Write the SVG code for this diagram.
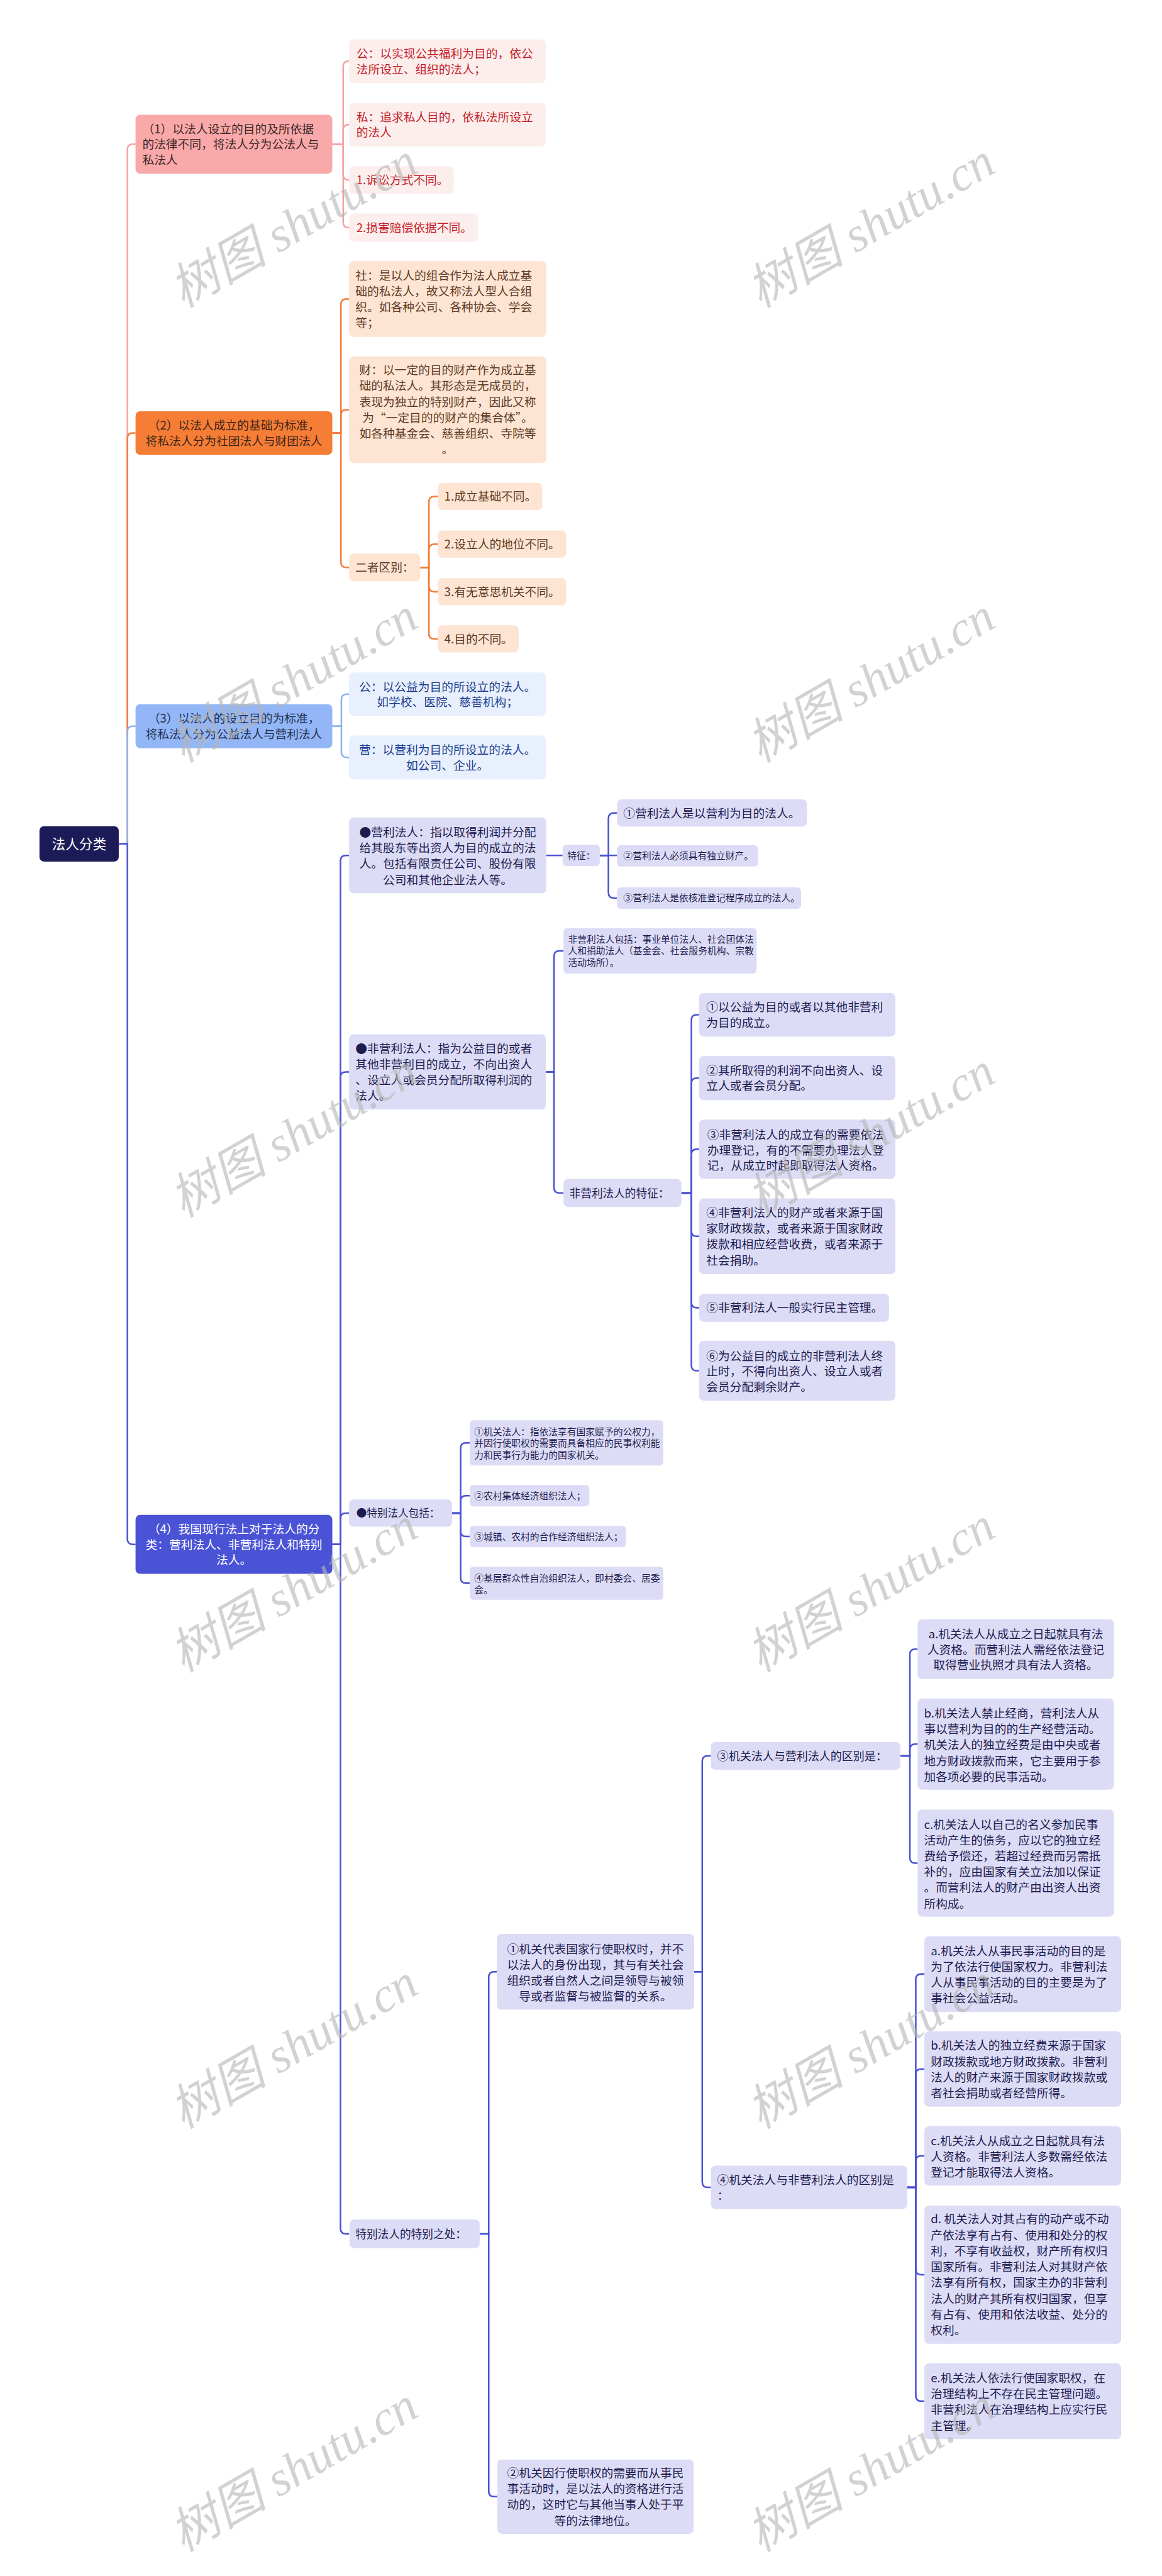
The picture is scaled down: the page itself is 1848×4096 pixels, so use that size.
<svg xmlns="http://www.w3.org/2000/svg" width="1848" height="4096" viewBox="0 0 1848 4096">
<style>
.t{font-family:"Noto Sans CJK SC","Noto Sans CJK JP",sans-serif;}
.s26{font-size:26px}.s20{font-size:20.5px}.s24{font-size:24.5px}.s23{font-size:23px}.s25{font-size:25px}.s30{font-size:30px}
.mid{text-anchor:middle}
.root{fill:#1d1b57}.n1{fill:#f9a9a9}.c1{fill:#fdeeee}.n2{fill:#f57d36}.c2{fill:#fde4d3}.n3{fill:#93b6f6}.c3{fill:#e8f0fd}.n4{fill:#4a52d6}.c4{fill:#dddcf6}
.tr{fill:#ffffff}.t1{fill:#3b2727}.tc1{fill:#c21f28}.t2{fill:#3d2517}.tc2{fill:#5e3b25}.t3{fill:#22304e}.tc3{fill:#1a3c8f}.t4{fill:#ffffff}.tc4{fill:#1d1c4f}
.ln{fill:none;stroke-width:3.5}
.lp{stroke:#f5a3a3}.lo{stroke:#f27c3a}.lb{stroke:#8eb2f2}.lv{stroke:#4a52d2}
.wm{font-family:"Liberation Serif","Noto Sans CJK SC",serif;font-style:italic;font-size:108px;fill:#b4b4b4;fill-opacity:0.6;text-anchor:middle}
</style>
<rect x="0" y="0" width="1848" height="4096" fill="#ffffff"/>
<g transform="scale(0.721)">
<g id="connectors">
<path class="ln lp" d="M262 1861 H281 V330 Q281 318 293 318 H299"/>
<path class="ln lo" d="M262 1861 H281 V967 Q281 955 293 955 H299"/>
<path class="ln lb" d="M262 1861 H281 V1613.5 Q281 1601.5 293 1601.5 H299"/>
<path class="ln lv" d="M262 1861 H281 V3394 Q281 3406 293 3406 H299"/>
<path class="ln lp" d="M733 318 H757 V147 Q757 135 769 135 H770"/>
<path class="ln lp" d="M733 318 H757 V287 Q757 275 769 275 H770"/>
<path class="ln lp" d="M733 318 H757 V385 Q757 397 769 397 H770"/>
<path class="ln lp" d="M733 318 H757 V490 Q757 502 769 502 H770"/>
<path class="ln lo" d="M733 955 H752 V671.5 Q752 659.5 764 659.5 H770"/>
<path class="ln lo" d="M733 955 H752 V915.5 Q752 903.5 764 903.5 H770"/>
<path class="ln lo" d="M733 955 H752 V1239.5 Q752 1251.5 764 1251.5 H770"/>
<path class="ln lo" d="M927 1251.5 H946 V1107 Q946 1095 958 1095 H966"/>
<path class="ln lo" d="M927 1251.5 H946 V1212 Q946 1200 958 1200 H966"/>
<path class="ln lo" d="M927 1251.5 H946 V1293 Q946 1305 958 1305 H966"/>
<path class="ln lo" d="M927 1251.5 H946 V1397 Q946 1409 958 1409 H966"/>
<path class="ln lb" d="M733 1601.5 H753 V1543 Q753 1531 765 1531 H770"/>
<path class="ln lb" d="M733 1601.5 H753 V1658.5 Q753 1670.5 765 1670.5 H770"/>
<path class="ln lv" d="M733 3406 H751 V1898.5 Q751 1886.5 763 1886.5 H770"/>
<path class="ln lv" d="M733 3406 H751 V2376 Q751 2364 763 2364 H770"/>
<path class="ln lv" d="M733 3406 H751 V3349 Q751 3337 763 3337 H770"/>
<path class="ln lv" d="M733 3406 H751 V4914.5 Q751 4926.5 763 4926.5 H770"/>
<path class="ln lv" d="M1205 1886.5 H1241"/>
<path class="ln lv" d="M1323 1886.5 H1342 V1805 Q1342 1793 1354 1793 H1361"/>
<path class="ln lv" d="M1323 1886.5 H1361"/>
<path class="ln lv" d="M1323 1886.5 H1342 V1968.5 Q1342 1980.5 1354 1980.5 H1361"/>
<path class="ln lv" d="M1204 2364 H1222 V2109 Q1222 2097 1234 2097 H1243"/>
<path class="ln lv" d="M1204 2364 H1222 V2619 Q1222 2631 1234 2631 H1243"/>
<path class="ln lv" d="M1503 2631 H1525 V2250 Q1525 2238 1537 2238 H1542"/>
<path class="ln lv" d="M1503 2631 H1525 V2389.5 Q1525 2377.5 1537 2377.5 H1542"/>
<path class="ln lv" d="M1503 2631 H1525 V2546.5 Q1525 2534.5 1537 2534.5 H1542"/>
<path class="ln lv" d="M1503 2631 H1525 V2714.5 Q1525 2726.5 1537 2726.5 H1542"/>
<path class="ln lv" d="M1503 2631 H1525 V2872 Q1525 2884 1537 2884 H1542"/>
<path class="ln lv" d="M1503 2631 H1525 V3011 Q1525 3023 1537 3023 H1542"/>
<path class="ln lv" d="M997 3337 H1016 V3194 Q1016 3182 1028 3182 H1036"/>
<path class="ln lv" d="M997 3337 H1016 V3310.5 Q1016 3298.5 1028 3298.5 H1036"/>
<path class="ln lv" d="M997 3337 H1016 V3376.5 Q1016 3388.5 1028 3388.5 H1036"/>
<path class="ln lv" d="M997 3337 H1016 V3479.5 Q1016 3491.5 1028 3491.5 H1036"/>
<path class="ln lv" d="M1058 4926.5 H1078 V4360.5 Q1078 4348.5 1090 4348.5 H1096"/>
<path class="ln lv" d="M1058 4926.5 H1078 V5494 Q1078 5506 1090 5506 H1097"/>
<path class="ln lv" d="M1531 4348.5 H1549 V3884.5 Q1549 3872.5 1561 3872.5 H1568"/>
<path class="ln lv" d="M1531 4348.5 H1549 V4812 Q1549 4824 1561 4824 H1568"/>
<path class="ln lv" d="M1986 3872.5 H2007 V3649 Q2007 3637 2019 3637 H2024"/>
<path class="ln lv" d="M1986 3872.5 H2007 V3858.5 Q2007 3846.5 2019 3846.5 H2024"/>
<path class="ln lv" d="M1986 3872.5 H2007 V4097 Q2007 4109 2019 4109 H2024"/>
<path class="ln lv" d="M2001 4824 H2020 V4365.5 Q2020 4353.5 2032 4353.5 H2039"/>
<path class="ln lv" d="M2001 4824 H2020 V4575 Q2020 4563 2032 4563 H2039"/>
<path class="ln lv" d="M2001 4824 H2020 V4766.5 Q2020 4754.5 2032 4754.5 H2039"/>
<path class="ln lv" d="M2001 4824 H2020 V5004.5 Q2020 5016.5 2032 5016.5 H2039"/>
<path class="ln lv" d="M2001 4824 H2020 V5283.5 Q2020 5295.5 2032 5295.5 H2039"/>
</g>

<g id="root"><rect class="root" x="87" y="1822" width="175" height="78" rx="10"/><text class="t s30 mid tr" x="174.5" y="1872">法人分类</text></g>

<g id="n1"><rect class="n1" x="299" y="253" width="434" height="130" rx="10"/><text class="t s26 t1"><tspan x="314" y="293.6">（1）以法人设立的目的及所依据</tspan><tspan x="314" y="327.6">的法律不同，将法人分为公法人与</tspan><tspan x="314" y="361.6">私法人</tspan></text></g>
<g id="n1a"><rect class="c1" x="770" y="87" width="434" height="96" rx="10"/><text class="t s26 tc1"><tspan x="786" y="127.6">公：以实现公共福利为目的，依公</tspan><tspan x="786" y="161.6">法所设立、组织的法人；</tspan></text></g>
<g id="n1b"><rect class="c1" x="770" y="227" width="434" height="96" rx="10"/><text class="t s26 tc1"><tspan x="786" y="267.6">私：追求私人目的，依私法所设立</tspan><tspan x="786" y="301.6">的法人</tspan></text></g>
<g id="n1c"><rect class="c1" x="770" y="366" width="231" height="62" rx="10"/><text class="t s26 tc1" x="786" y="406.6">1.诉讼方式不同。</text></g>
<g id="n1d"><rect class="c1" x="770" y="471" width="285" height="62" rx="10"/><text class="t s26 tc1" x="786" y="511.6">2.损害赔偿依据不同。</text></g>

<g id="n2"><rect class="n2" x="299" y="907" width="434" height="96" rx="10"/><text class="t s26 mid t2"><tspan x="516" y="947.6">（2）以法人成立的基础为标准，</tspan><tspan x="516" y="981.6">将私法人分为社团法人与财团法人</tspan></text></g>
<g id="n2a"><rect class="c2" x="770" y="576" width="435" height="167" rx="10"/><text class="t s26 tc2"><tspan x="784" y="616.6">社：是以人的组合作为法人成立基</tspan><tspan x="784" y="651.6">础的私法人，故又称法人型人合组</tspan><tspan x="784" y="686.6">织。如各种公司、各种协会、学会</tspan><tspan x="784" y="721.6">等；</tspan></text></g>
<g id="n2b"><rect class="c2" x="770" y="786" width="435" height="235" rx="10"/><text class="t s26 mid tc2"><tspan x="987.5" y="825.6">财：以一定的目的财产作为成立基</tspan><tspan x="987.5" y="860.6">础的私法人。其形态是无成员的，</tspan><tspan x="987.5" y="895.6">表现为独立的特别财产，因此又称</tspan><tspan x="987.5" y="930.6">为“一定目的的财产的集合体”。</tspan><tspan x="987.5" y="965.6">如各种基金会、慈善组织、寺院等</tspan><tspan x="987.5" y="1000.6">。</tspan></text></g>
<g id="n2c"><rect class="c2" x="770" y="1221" width="157" height="61" rx="10"/><text class="t s26 mid tc2" x="848.5" y="1261.1">二者区别：</text></g>
<g id="n2c1"><rect class="c2" x="966" y="1065" width="230" height="60" rx="10"/><text class="t s26 tc2" x="980" y="1104.6">1.成立基础不同。</text></g>
<g id="n2c2"><rect class="c2" x="966" y="1170" width="283" height="60" rx="10"/><text class="t s26 tc2" x="980" y="1209.6">2.设立人的地位不同。</text></g>
<g id="n2c3"><rect class="c2" x="966" y="1275" width="283" height="60" rx="10"/><text class="t s26 tc2" x="980" y="1314.6">3.有无意思机关不同。</text></g>
<g id="n2c4"><rect class="c2" x="966" y="1379" width="178" height="60" rx="10"/><text class="t s26 tc2" x="980" y="1418.6">4.目的不同。</text></g>

<g id="n3"><rect class="n3" x="299" y="1553" width="434" height="97" rx="10"/><text class="t s26 mid t3"><tspan x="516" y="1594.1">（3）以法人的设立目的为标准，</tspan><tspan x="516" y="1628.1">将私法人分为公益法人与营利法人</tspan></text></g>
<g id="n3a"><rect class="c3" x="770" y="1483" width="434" height="96" rx="10"/><text class="t s26 mid tc3"><tspan x="987" y="1523.6">公：以公益为目的所设立的法人。</tspan><tspan x="987" y="1557.6">如学校、医院、慈善机构；</tspan></text></g>
<g id="n3b"><rect class="c3" x="770" y="1622" width="434" height="97" rx="10"/><text class="t s26 mid tc3"><tspan x="987" y="1663.1">营：以营利为目的所设立的法人。</tspan><tspan x="987" y="1697.1">如公司、企业。</tspan></text></g>

<g id="n4"><rect class="n4" x="299" y="3341" width="434" height="130" rx="10"/><text class="t s26 mid t4"><tspan x="516" y="3381.6">（4）我国现行法上对于法人的分</tspan><tspan x="516" y="3415.6">类：营利法人、非营利法人和特别</tspan><tspan x="516" y="3449.6">法人。</tspan></text></g>

<g id="p1"><rect class="c4" x="770" y="1803" width="435" height="167" rx="10"/><text class="t s26 mid tc4"><tspan x="987.5" y="1844.6">●营利法人：指以取得利润并分配</tspan><tspan x="987.5" y="1879.6">给其股东等出资人为目的成立的法</tspan><tspan x="987.5" y="1914.6">人。包括有限责任公司、股份有限</tspan><tspan x="987.5" y="1949.6">公司和其他企业法人等。</tspan></text></g>
<g id="p1f"><rect class="c4" x="1241" y="1863" width="82" height="47" rx="8"/><text class="t s20 mid tc4" x="1282" y="1894.6">特征：</text></g>
<g id="p1f1"><rect class="c4" x="1361" y="1763" width="419" height="60" rx="10"/><text class="t s26 tc4" x="1375" y="1802.6">①营利法人是以营利为目的法人。</text></g>
<g id="p1f2"><rect class="c4" x="1361" y="1864" width="311" height="47" rx="8"/><text class="t s20 tc4" x="1375" y="1895.1">②营利法人必须具有独立财产。</text></g>
<g id="p1f3"><rect class="c4" x="1361" y="1957" width="406" height="47" rx="8"/><text class="t s20 tc4" x="1375" y="1988.1">③营利法人是依核准登记程序成立的法人。</text></g>

<g id="p2"><rect class="c4" x="770" y="2281" width="434" height="166" rx="10"/><text class="t s26 tc4"><tspan x="784" y="2321.1">●非营利法人：指为公益目的或者</tspan><tspan x="784" y="2356.1">其他非营利目的成立，不向出资人</tspan><tspan x="784" y="2391.1">、设立人或会员分配所取得利润的</tspan><tspan x="784" y="2426.1">法人。</tspan></text></g>
<g id="p2a"><rect class="c4" x="1243" y="2047" width="426" height="100" rx="8"/><text class="t s20 tc4"><tspan x="1253" y="2078.6">非营利法人包括：事业单位法人、社会团体法</tspan><tspan x="1253" y="2104.6">人和捐助法人（基金会、社会服务机构、宗教</tspan><tspan x="1253" y="2130.6">活动场所）。</tspan></text></g>
<g id="p2b"><rect class="c4" x="1243" y="2600" width="260" height="62" rx="10"/><text class="t s24 tc4" x="1256" y="2640.1">非营利法人的特征：</text></g>
<g id="p2b1"><rect class="c4" x="1542" y="2190" width="433" height="96" rx="10"/><text class="t s26 tc4"><tspan x="1558" y="2230.6">①以公益为目的或者以其他非营利</tspan><tspan x="1558" y="2264.6">为目的成立。</tspan></text></g>
<g id="p2b2"><rect class="c4" x="1542" y="2329" width="433" height="97" rx="10"/><text class="t s26 tc4"><tspan x="1558" y="2370.1">②其所取得的利润不向出资人、设</tspan><tspan x="1558" y="2404.1">立人或者会员分配。</tspan></text></g>
<g id="p2b3"><rect class="c4" x="1542" y="2469" width="433" height="131" rx="10"/><text class="t s26 tc4"><tspan x="1560" y="2512">③非营利法人的成立有的需要依法</tspan><tspan x="1560" y="2546">办理登记，有的不需要办理法人登</tspan><tspan x="1560" y="2580">记，从成立时起即取得法人资格。</tspan></text></g>
<g id="p2b4"><rect class="c4" x="1542" y="2643" width="433" height="167" rx="10"/><text class="t s26 tc4"><tspan x="1558" y="2683.6">④非营利法人的财产或者来源于国</tspan><tspan x="1558" y="2718.6">家财政拨款，或者来源于国家财政</tspan><tspan x="1558" y="2753.6">拨款和相应经营收费，或者来源于</tspan><tspan x="1558" y="2788.6">社会捐助。</tspan></text></g>
<g id="p2b5"><rect class="c4" x="1542" y="2853" width="419" height="62" rx="10"/><text class="t s26 tc4" x="1558" y="2893.6">⑤非营利法人一般实行民主管理。</text></g>
<g id="p2b6"><rect class="c4" x="1542" y="2957" width="433" height="132" rx="10"/><text class="t s26 tc4"><tspan x="1558" y="2999.6">⑥为公益目的成立的非营利法人终</tspan><tspan x="1558" y="3033.6">止时，不得向出资人、设立人或者</tspan><tspan x="1558" y="3067.6">会员分配剩余财产。</tspan></text></g>

<g id="p3"><rect class="c4" x="770" y="3307" width="227" height="60" rx="10"/><text class="t s23 tc4" x="786" y="3345.5">●特别法人包括：</text></g>
<g id="p3a"><rect class="c4" x="1036" y="3132" width="427" height="100" rx="8"/><text class="t s20 tc4"><tspan x="1046" y="3164.6">①机关法人：指依法享有国家赋予的公权力，</tspan><tspan x="1046" y="3190.6">并因行使职权的需要而具备相应的民事权利能</tspan><tspan x="1046" y="3216.6">力和民事行为能力的国家机关。</tspan></text></g>
<g id="p3b"><rect class="c4" x="1036" y="3275" width="264" height="47" rx="8"/><text class="t s20 tc4" x="1046" y="3306.1">②农村集体经济组织法人；</text></g>
<g id="p3c"><rect class="c4" x="1036" y="3365" width="345" height="47" rx="8"/><text class="t s20 tc4" x="1046" y="3396.1">③城镇、农村的合作经济组织法人；</text></g>
<g id="p3d"><rect class="c4" x="1036" y="3455" width="427" height="73" rx="8"/><text class="t s20 tc4"><tspan x="1046" y="3487.6">④基层群众性自治组织法人，即村委会、居委</tspan><tspan x="1046" y="3513.6">会。</tspan></text></g>

<g id="p4"><rect class="c4" x="771" y="4895" width="287" height="63" rx="10"/><text class="t s24 tc4" x="784" y="4935.6">特别法人的特别之处：</text></g>
<g id="p4a"><rect class="c4" x="1096" y="4265" width="435" height="167" rx="10"/><text class="t s26 mid tc4"><tspan x="1313.5" y="4307.6">①机关代表国家行使职权时，并不</tspan><tspan x="1313.5" y="4342.6">以法人的身份出现，其与有关社会</tspan><tspan x="1313.5" y="4377.6">组织或者自然人之间是领导与被领</tspan><tspan x="1313.5" y="4412.6">导或者监督与被监督的关系。</tspan></text></g>
<g id="p4b"><rect class="c4" x="1097" y="5424" width="433" height="164" rx="10"/><text class="t s26 mid tc4"><tspan x="1313.5" y="5463.1">②机关因行使职权的需要而从事民</tspan><tspan x="1313.5" y="5498.1">事活动时，是以法人的资格进行活</tspan><tspan x="1313.5" y="5533.1">动的，这时它与其他当事人处于平</tspan><tspan x="1313.5" y="5568.1">等的法律地位。</tspan></text></g>
<g id="p4c"><rect class="c4" x="1568" y="3842" width="418" height="61" rx="10"/><text class="t s25 tc4" x="1582" y="3881.8">③机关法人与营利法人的区别是：</text></g>
<g id="p4d"><rect class="c4" x="1568" y="4776" width="433" height="96" rx="10"/><text class="t s26 tc4"><tspan x="1582" y="4817.6">④机关法人与非营利法人的区别是</tspan><tspan x="1582" y="4851.6">：</tspan></text></g>
<g id="p4c1"><rect class="c4" x="2024" y="3571" width="433" height="132" rx="10"/><text class="t s26 mid tc4"><tspan x="2240.5" y="3613.6">a.机关法人从成立之日起就具有法</tspan><tspan x="2240.5" y="3647.6">人资格。而营利法人需经依法登记</tspan><tspan x="2240.5" y="3681.6">取得营业执照才具有法人资格。</tspan></text></g>
<g id="p4c2"><rect class="c4" x="2024" y="3746" width="433" height="201" rx="10"/><text class="t s26 tc4"><tspan x="2038" y="3787.6">b.机关法人禁止经商，营利法人从</tspan><tspan x="2038" y="3822.6">事以营利为目的的生产经营活动。</tspan><tspan x="2038" y="3857.6">机关法人的独立经费是由中央或者</tspan><tspan x="2038" y="3892.6">地方财政拨款而来，它主要用于参</tspan><tspan x="2038" y="3927.6">加各项必要的民事活动。</tspan></text></g>
<g id="p4c3"><rect class="c4" x="2024" y="3991" width="433" height="236" rx="10"/><text class="t s26 tc4"><tspan x="2038" y="4032.6">c.机关法人以自己的名义参加民事</tspan><tspan x="2038" y="4067.6">活动产生的债务，应以它的独立经</tspan><tspan x="2038" y="4102.6">费给予偿还，若超过经费而另需抵</tspan><tspan x="2038" y="4137.6">补的，应由国家有关立法加以保证</tspan><tspan x="2038" y="4172.6">。而营利法人的财产由出资人出资</tspan><tspan x="2038" y="4207.6">所构成。</tspan></text></g>
<g id="p4d1"><rect class="c4" x="2039" y="4270" width="434" height="167" rx="10"/><text class="t s26 tc4"><tspan x="2053" y="4311.6">a.机关法人从事民事活动的目的是</tspan><tspan x="2053" y="4346.6">为了依法行使国家权力。非营利法</tspan><tspan x="2053" y="4381.6">人从事民事活动的目的主要是为了</tspan><tspan x="2053" y="4416.6">事社会公益活动。</tspan></text></g>
<g id="p4d2"><rect class="c4" x="2039" y="4480" width="434" height="166" rx="10"/><text class="t s26 tc4"><tspan x="2053" y="4520.6">b.机关法人的独立经费来源于国家</tspan><tspan x="2053" y="4555.6">财政拨款或地方财政拨款。非营利</tspan><tspan x="2053" y="4590.6">法人的财产来源于国家财政拨款或</tspan><tspan x="2053" y="4625.6">者社会捐助或者经营所得。</tspan></text></g>
<g id="p4d3"><rect class="c4" x="2039" y="4689" width="434" height="131" rx="10"/><text class="t s26 tc4"><tspan x="2053" y="4730.6">c.机关法人从成立之日起就具有法</tspan><tspan x="2053" y="4765.6">人资格。非营利法人多数需经依法</tspan><tspan x="2053" y="4800.6">登记才能取得法人资格。</tspan></text></g>
<g id="p4d4"><rect class="c4" x="2039" y="4864" width="434" height="305" rx="10"/><text class="t s26 tc4"><tspan x="2053" y="4903.6">d. 机关法人对其占有的动产或不动</tspan><tspan x="2053" y="4938.6">产依法享有占有、使用和处分的权</tspan><tspan x="2053" y="4973.6">利，不享有收益权，财产所有权归</tspan><tspan x="2053" y="5008.6">国家所有。非营利法人对其财产依</tspan><tspan x="2053" y="5043.6">法享有所有权，国家主办的非营利</tspan><tspan x="2053" y="5078.6">法人的财产其所有权归国家，但享</tspan><tspan x="2053" y="5113.6">有占有、使用和依法收益、处分的</tspan><tspan x="2053" y="5148.6">权利。</tspan></text></g>
<g id="p4d5"><rect class="c4" x="2039" y="5212" width="434" height="167" rx="10"/><text class="t s26 tc4"><tspan x="2053" y="5253.6">e.机关法人依法行使国家职权，在</tspan><tspan x="2053" y="5288.6">治理结构上不存在民主管理问题。</tspan><tspan x="2053" y="5323.6">非营利法人在治理结构上应实行民</tspan><tspan x="2053" y="5358.6">主管理。</tspan></text></g>

<g id="watermark">
<text class="wm" x="647" y="534" transform="rotate(-30 647 496)">树图 shutu.cn</text>
<text class="wm" x="1920" y="534" transform="rotate(-30 1920 496)">树图 shutu.cn</text>
<text class="wm" x="647" y="1537" transform="rotate(-30 647 1499)">树图 shutu.cn</text>
<text class="wm" x="1920" y="1537" transform="rotate(-30 1920 1499)">树图 shutu.cn</text>
<text class="wm" x="647" y="2540" transform="rotate(-30 647 2502)">树图 shutu.cn</text>
<text class="wm" x="1920" y="2540" transform="rotate(-30 1920 2502)">树图 shutu.cn</text>
<text class="wm" x="647" y="3543" transform="rotate(-30 647 3505)">树图 shutu.cn</text>
<text class="wm" x="1920" y="3543" transform="rotate(-30 1920 3505)">树图 shutu.cn</text>
<text class="wm" x="647" y="4550" transform="rotate(-30 647 4512)">树图 shutu.cn</text>
<text class="wm" x="1920" y="4550" transform="rotate(-30 1920 4512)">树图 shutu.cn</text>
<text class="wm" x="647" y="5483" transform="rotate(-30 647 5445)">树图 shutu.cn</text>
<text class="wm" x="1920" y="5483" transform="rotate(-30 1920 5445)">树图 shutu.cn</text>
</g>
</g>
</svg>
